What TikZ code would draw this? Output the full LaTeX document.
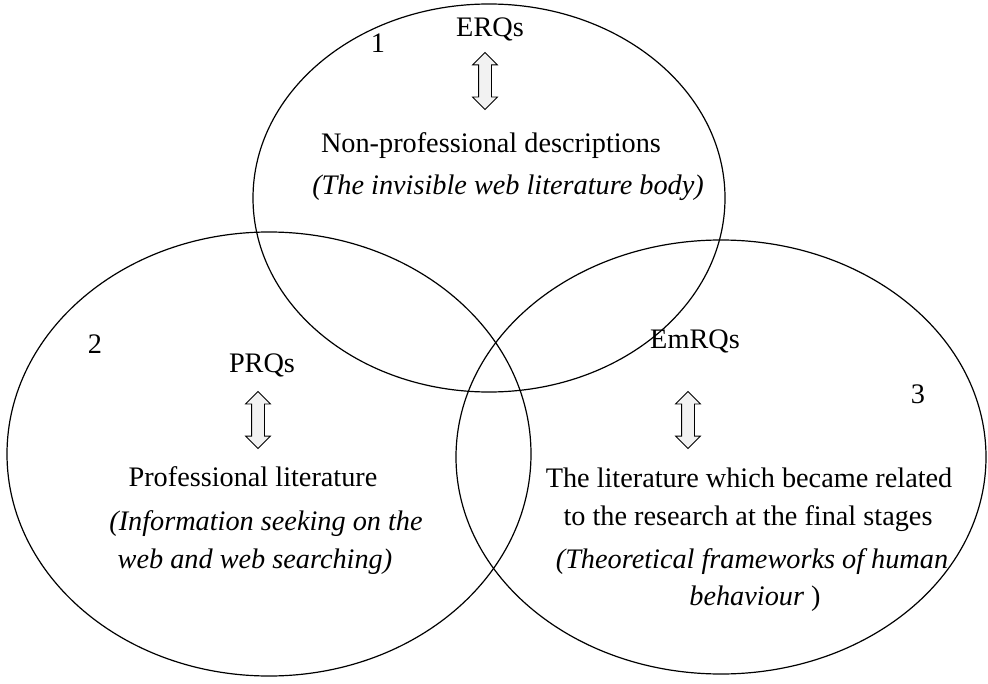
\documentclass[tikz,border=0pt]{standalone}
\usepackage{fontspec}
\setmainfont{Liberation Serif}
\usetikzlibrary{shapes.arrows}
\begin{document}
\begin{tikzpicture}[x=0.75pt,y=-0.75pt,
  ring/.style={line width=0.9pt,black},
  label/.style={inner sep=0pt,anchor=base,font=\fontsize{21.2}{25}\selectfont},
  note/.style={label,font=\fontsize{21.2}{25}\selectfont\itshape},
  dblarrow/.style={double arrow,draw,line width=0.6pt,fill=gray!10,
    shape border rotate=90,inner sep=4.5pt,minimum width=18pt,
    minimum height=42.75pt,double arrow head extend=4.5pt}]
\useasboundingbox (0,0) rectangle (988,684);

% the three overlapping areas
\draw[ring] (489,198) ellipse [x radius=177pt, y radius=145.5pt];
\draw[ring] (269,454) ellipse [x radius=196.5pt, y radius=166.5pt];
\draw[ring] (721,457) ellipse [x radius=198.75pt, y radius=162.75pt];

% area 1
\node[label] (n1) at (378,53) {1};
\node[label] (erq) at (490,37) {ERQs};
\node[dblarrow] (a1) at (485,81) {};
\node[label] (npd) at (491,153) {Non-professional descriptions};
\node[note] (inv) at (508,195) {(The invisible web literature body)};

% area 2
\node[label] (n2) at (95,353) {2};
\node[label] (prq) at (262,372) {PRQs};
\node[dblarrow] (a2) at (258,420) {};
\node[label] (pl) at (253,486) {Professional literature};
\node[note] (is1) at (266,530) {(Information seeking on the};
\node[note] (is2) at (255,568) {web and web searching)};

% area 3
\node[label] (n3) at (918,403) {3};
\node[label] (emr) at (695,348) {EmRQs};
\node[dblarrow] (a3) at (688,420) {};
\node[label] (lt1) at (749,487) {The literature which became related};
\node[label] (lt2) at (748,525) {to the research at the final stages};
\node[note] (tf1) at (752,568) {(Theoretical frameworks of human};
\node[label] (tf2) at (755,605) {\textit{behaviour} )};
\end{tikzpicture}
\end{document}
